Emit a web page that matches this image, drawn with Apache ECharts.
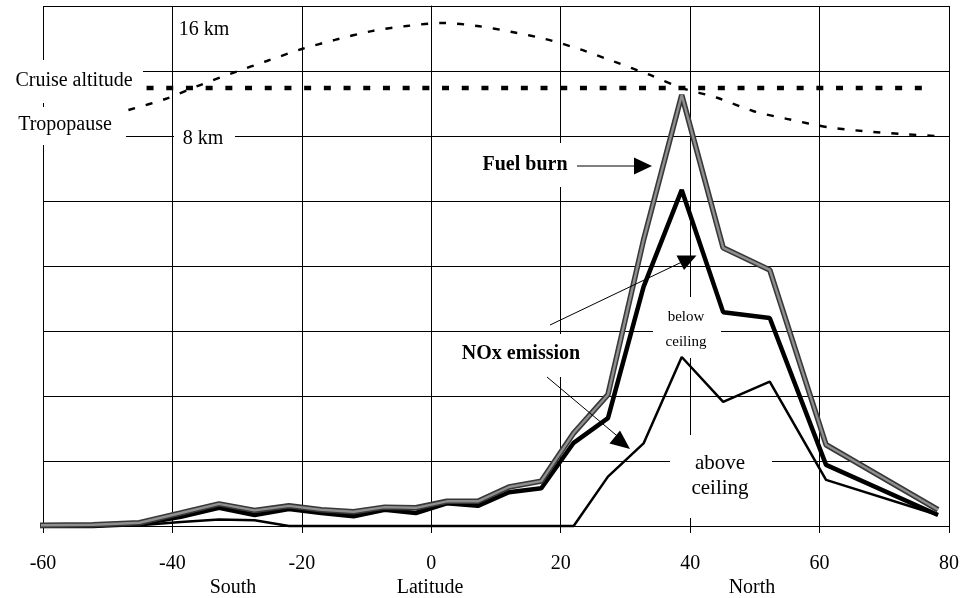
<!DOCTYPE html>
<html>
<head>
<meta charset="utf-8">
<script src="https://cdn.jsdelivr.net/npm/echarts@6/dist/echarts.min.js"></script>
<style>
  html, body { margin: 0; padding: 0; background: #fff; }
  #chart { width: 963px; height: 598px; }
</style>
</head>
<body>
<div id="chart"></div>
<script>
// Latitude band centres (degrees) shared by the three emission profiles
const latitudes = [-61.0, -52.3, -45.1, -38.7, -32.8, -27.3, -22.0, -17.0, -12.0, -7.2, -2.4,
                   2.4, 7.2, 12.0, 17.0, 22.0, 27.3, 32.8, 38.7, 45.1, 52.3, 61.0, 78.3];
const fuelBurn        = [0.01, 0.02, 0.05, 0.20, 0.34, 0.24, 0.31, 0.25, 0.22, 0.29, 0.28,
                         0.38, 0.38, 0.60, 0.69, 1.43, 2.02, 4.40, 6.63, 4.28, 3.94, 1.25, 0.25];
const noxTotal        = [0.00, 0.00, 0.03, 0.14, 0.28, 0.17, 0.26, 0.20, 0.15, 0.25, 0.20,
                         0.35, 0.31, 0.52, 0.58, 1.28, 1.66, 3.68, 5.17, 3.29, 3.20, 0.94, 0.17];
const noxAboveCeiling = [0.00, 0.00, 0.01, 0.06, 0.10, 0.09, 0.00, 0.00, 0.00, 0.00, 0.00,
                         0.00, 0.00, 0.00, 0.00, 0.00, 0.76, 1.27, 2.60, 1.91, 2.22, 0.71, 0.17];

// Tropopause height (km) by latitude
const tropopauseLat = [-46.8, -41.1, -35.7, -30.3, -25.4, -20.0, -14.9, -9.2, -3.8, 1.8, 7.1, 12.5,
                       17.6, 23.3, 28.4, 33.8, 38.7, 44.3, 49.7, 55.1, 61.1, 66.7, 72.7, 78.2];
const tropopauseKm  = [9.84, 10.62, 11.61, 12.53, 13.31, 14.16, 14.80, 15.43, 15.79, 16.0, 15.79, 15.36,
                       14.87, 14.09, 13.24, 12.32, 11.40, 10.69, 9.77, 9.20, 8.64, 8.35, 8.14, 8.0];

// Cruise altitude (km) and the latitude span of its line
const cruiseAltitudeKm = 11.4;
const cruiseLatRange = [-44.0, 77.6];

// Latitude axis ticks
const xTicks = [-60, -40, -20, 0, 20, 40, 60, 80];

const pairs = (xs, ys) => xs.map((x, i) => [x, ys[i]]);
const FONT = '"Liberation Serif", "Times New Roman", serif';

// Altitude axis: 8 km sits on the 6th grid line, 16 km near the top
const KM_PER_UNIT = 4.602;
const kmMin = 8 - 6 * KM_PER_UNIT;
const kmMax = 8 + 2 * KM_PER_UNIT;

const chart = echarts.init(document.getElementById('chart'), null, { renderer: 'canvas' });

const white = (x, y, w, h) => ({ type: 'rect', z: 1, silent: true,
  shape: { x, y, width: w, height: h }, style: { fill: '#fff' } });
const label = (text, x, y, size, bold) => ({ type: 'text', z: 10, silent: true, x, y,
  style: { text, fill: '#000', font: (bold ? 'bold ' : '') + size + 'px ' + FONT,
           align: 'center', verticalAlign: 'middle' } });
const seg = (x1, y1, x2, y2) => ({ type: 'line', z: 10, silent: true,
  shape: { x1, y1, x2, y2 }, style: { stroke: '#000', lineWidth: 1 } });
const head = (pts) => ({ type: 'polygon', z: 10, silent: true,
  shape: { points: pts }, style: { fill: '#000' } });

chart.setOption({
  animation: false,
  backgroundColor: '#fff',
  grid: { left: 43, right: 14, top: 6, bottom: 72 },
  xAxis: {
    type: 'value', min: xTicks[0], max: xTicks[xTicks.length - 1], interval: 20,
    axisLine: { show: true, onZero: false, lineStyle: { color: '#000', width: 1 } },
    axisTick: { show: true, length: 7, lineStyle: { color: '#000' } },
    axisLabel: { color: '#000', fontFamily: FONT, fontSize: 20, margin: 28 },
    splitLine: { show: true, lineStyle: { color: '#000', width: 1 } }
  },
  yAxis: [
    {
      type: 'value', min: 0, max: 8, interval: 1,
      axisLine: { show: true, lineStyle: { color: '#000', width: 1 } },
      axisTick: { show: false }, axisLabel: { show: false },
      splitLine: { show: true, lineStyle: { color: '#000', width: 1 } }
    },
    {
      type: 'value', min: kmMin, max: kmMax, show: false,
      splitLine: { show: false }
    }
  ],
  series: [
    { name: 'NOx above ceiling', type: 'line', data: pairs(latitudes, noxAboveCeiling),
      symbol: 'none', clip: false, z: 3, lineStyle: { color: '#000', width: 2.5 } },
    { name: 'NOx emission', type: 'line', data: pairs(latitudes, noxTotal),
      symbol: 'none', clip: false, z: 4, lineStyle: { color: '#000', width: 4.5 } },
    { name: 'Fuel burn', type: 'line', data: pairs(latitudes, fuelBurn),
      symbol: 'none', clip: false, z: 5, lineStyle: { color: '#383838', width: 5.5 } },
    { name: 'Fuel burn core', type: 'line', data: pairs(latitudes, fuelBurn),
      symbol: 'none', clip: false, z: 6, lineStyle: { color: '#8f8f8f', width: 2.4 } },
    { name: 'Tropopause', type: 'line', yAxisIndex: 1, data: pairs(tropopauseLat, tropopauseKm),
      symbol: 'none', smooth: 0.3, z: 3,
      lineStyle: { color: '#000', width: 2.4, type: [7, 11] } },
    { name: 'Cruise altitude', type: 'line', yAxisIndex: 1,
      data: cruiseLatRange.map(lat => [lat, cruiseAltitudeKm]),
      symbol: 'none', z: 3, lineStyle: { color: '#000', width: 4.5, type: [7, 12.7] } }
  ],
  graphic: [
    // white backing boxes behind the annotations
    white(0, 60, 143, 43),
    white(0, 107, 126, 38),
    white(174, 125, 61, 26),
    white(478, 143, 92, 44),
    white(455, 334, 135, 43),
    white(653, 297, 68, 61),
    white(670, 435, 102, 83),
    // annotations
    label('Cruise altitude', 74, 81, 20),
    label('Tropopause', 65, 125, 20),
    label('16 km', 204, 30, 20),
    label('8 km', 203, 139, 20),
    label('Fuel burn', 525, 165, 20, true),
    label('NOx emission', 521, 354, 20, true),
    label('below', 686, 317, 15),
    label('ceiling', 686, 342, 15),
    label('above', 720, 463, 21),
    label('ceiling', 720, 488, 21),
    label('South', 233, 588, 20),
    label('Latitude', 430, 588, 20),
    label('North', 752, 588, 20),
    // arrows
    seg(577, 166, 635, 166),
    head([[634, 157.5], [652, 166], [634, 174.5]]),
    seg(550, 325, 684, 261),
    head([[676.5, 255.5], [696.5, 255.5], [684, 270]]),
    seg(547, 377, 622, 440),
    head([[620, 430.5], [609.5, 443.5], [630, 449]])
  ]
});
</script>
</body>
</html>
